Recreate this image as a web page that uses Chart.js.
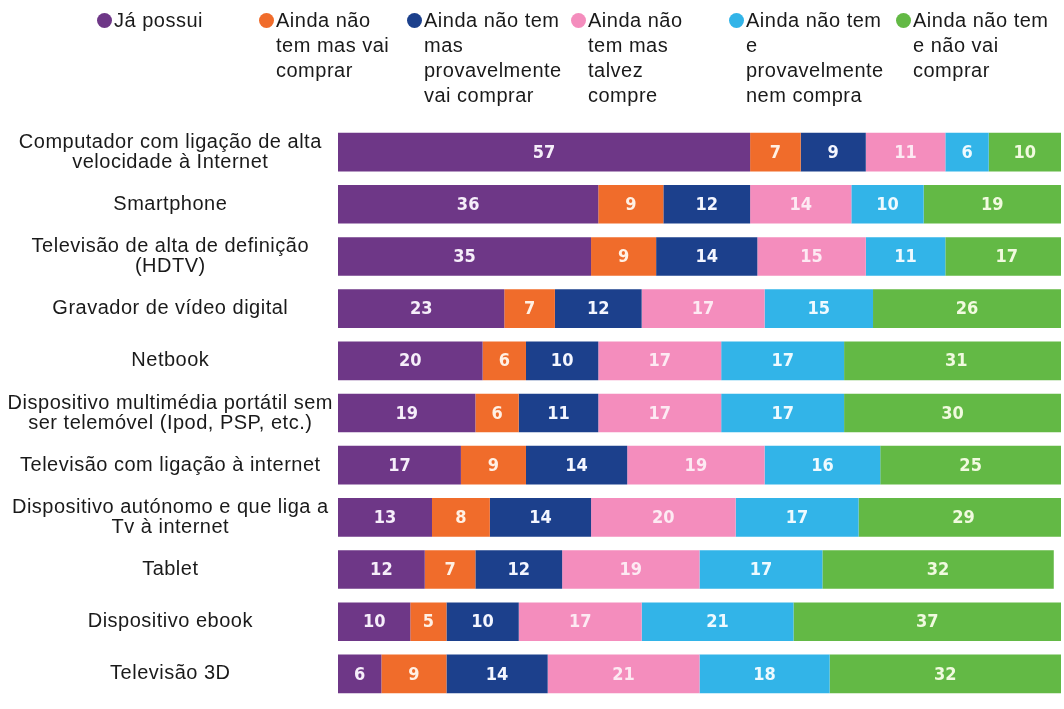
<!DOCTYPE html>
<html>
<head>
<meta charset="utf-8">
<title>Intenção de compra</title>
<script src="https://cdn.jsdelivr.net/npm/chart.js@4.4.1/dist/chart.umd.min.js"></script>
<style>
  body{margin:0;background:#fff;overflow:hidden;width:1064px;height:709px;position:relative;font-family:"Liberation Sans",Arial,sans-serif}
  #legend{position:absolute;left:0;top:0;width:1064px;height:120px;z-index:2}
  .item{position:absolute;top:8px;font-size:20px;letter-spacing:0.5px;line-height:25px;color:#1a1a1a;white-space:nowrap}
  .dot{position:absolute;top:13px;width:15px;height:15px;border-radius:50%}
  canvas{position:absolute;left:0;top:0}
</style>
</head>
<body>
<div id="legend"></div>
<canvas id="chart" width="1064" height="725"></canvas>
<script>
// categories (multi-line labels as arrays)
const categories = [
  ['Computador com ligação de alta', 'velocidade à Internet'],
  'Smartphone',
  ['Televisão de alta de definição', '(HDTV)'],
  'Gravador de vídeo digital',
  'Netbook',
  ['Dispositivo multimédia portátil sem', 'ser telemóvel (Ipod, PSP, etc.)'],
  'Televisão com ligação à internet',
  ['Dispositivo autónomo e que liga a', 'Tv à internet'],
  'Tablet',
  'Dispositivo ebook',
  'Televisão 3D'
];

// series names, split the way the legend wraps them
const seriesNames = [
  ['Já possui'],
  ['Ainda não', 'tem mas vai', 'comprar'],
  ['Ainda não tem', 'mas', 'provavelmente', 'vai comprar'],
  ['Ainda não', 'tem mas', 'talvez', 'compre'],
  ['Ainda não tem', 'e', 'provavelmente', 'nem compra'],
  ['Ainda não tem', 'e não vai', 'comprar']
];

// values (%)
const jaPossui            = [57, 36, 35, 23, 20, 19, 17, 13, 12, 10, 6];
const vaiComprar          = [7, 9, 9, 7, 6, 6, 9, 8, 7, 5, 9];
const provavelmenteCompra = [9, 12, 14, 12, 10, 11, 14, 14, 12, 10, 14];
const talvezCompre        = [11, 14, 15, 17, 17, 17, 19, 20, 19, 17, 21];
const provavelmenteNao    = [6, 10, 11, 15, 17, 17, 16, 17, 17, 21, 18];
const naoVaiComprar       = [10, 19, 17, 26, 31, 30, 25, 29, 32, 37, 32];

const seriesValues = [jaPossui, vaiComprar, provavelmenteCompra, talvezCompre, provavelmenteNao, naoVaiComprar];
const colors = ['#6e3787', '#f06c2b', '#1c408c', '#f48dbd', '#32b4e8', '#63b945'];
const labelColors = ['#f6eefa', '#fff0e4', '#f4f6ff', '#fdeaf3', '#eefaff', '#f1fadf'];

// legend marker x centres
const legendX = [104, 266, 414, 578, 736, 903];

// build html legend
const legend = document.getElementById('legend');
seriesNames.forEach((lines, i) => {
  const dot = document.createElement('div');
  dot.className = 'dot';
  dot.style.left = (legendX[i] - 7) + 'px';
  dot.style.background = colors[i];
  legend.appendChild(dot);
  const txt = document.createElement('div');
  txt.className = 'item';
  txt.style.left = (legendX[i] + 10) + 'px';
  txt.innerHTML = lines.join('<br>');
  legend.appendChild(txt);
});

// widen the axis text a little like the original
const tracking = {
  id: 'tracking',
  beforeUpdate(chart) { chart.ctx.letterSpacing = '0.5px'; },
  beforeDraw(chart) { chart.ctx.letterSpacing = '0.5px'; },
  beforeDatasetsDraw(chart) { chart.ctx.letterSpacing = '0px'; }
};

// numbers inside the segments
const barLabels = {
  id: 'barLabels',
  afterDatasetsDraw(chart) {
    const ctx = chart.ctx;
    ctx.save();
    ctx.font = 'bold 18px "Liberation Sans Narrow", "DejaVu Sans Condensed", "Liberation Sans", sans-serif';
    ctx.textAlign = 'center';
    ctx.textBaseline = 'middle';
    chart.data.datasets.forEach((ds, i) => {
      chart.getDatasetMeta(i).data.forEach((bar, j) => {
        ctx.fillStyle = labelColors[i];
        ctx.fillText(ds.data[j], (bar.x + bar.base) / 2, bar.y + 1);
      });
    });
    ctx.restore();
  }
};

new Chart(document.getElementById('chart'), {
  type: 'bar',
  data: {
    labels: categories,
    datasets: seriesValues.map((vals, i) => ({
      label: seriesNames[i].join(' '),
      data: vals,
      backgroundColor: colors[i],
      borderWidth: 0,
      barPercentage: 0.74,
      categoryPercentage: 1
    }))
  },
  options: {
    indexAxis: 'y',
    responsive: false,
    animation: false,
    layout: { padding: { top: 126, right: 3, bottom: 2, left: 0 } },
    plugins: { legend: { display: false }, tooltip: { enabled: false } },
    scales: {
      x: { stacked: true, display: false, min: 0, max: 100 },
      y: {
        stacked: true,
        grid: { display: false, drawTicks: false },
        border: { display: false },
        ticks: {
          autoSkip: false,
          crossAlign: 'center',
          padding: 5,
          color: '#1a1a1a',
          font: { family: '"Liberation Sans", Arial, sans-serif', size: 20, lineHeight: '20px' }
        },
        afterFit(scale) { scale.width = 338; }
      }
    }
  },
  plugins: [tracking, barLabels]
});
</script>
</body>
</html>
